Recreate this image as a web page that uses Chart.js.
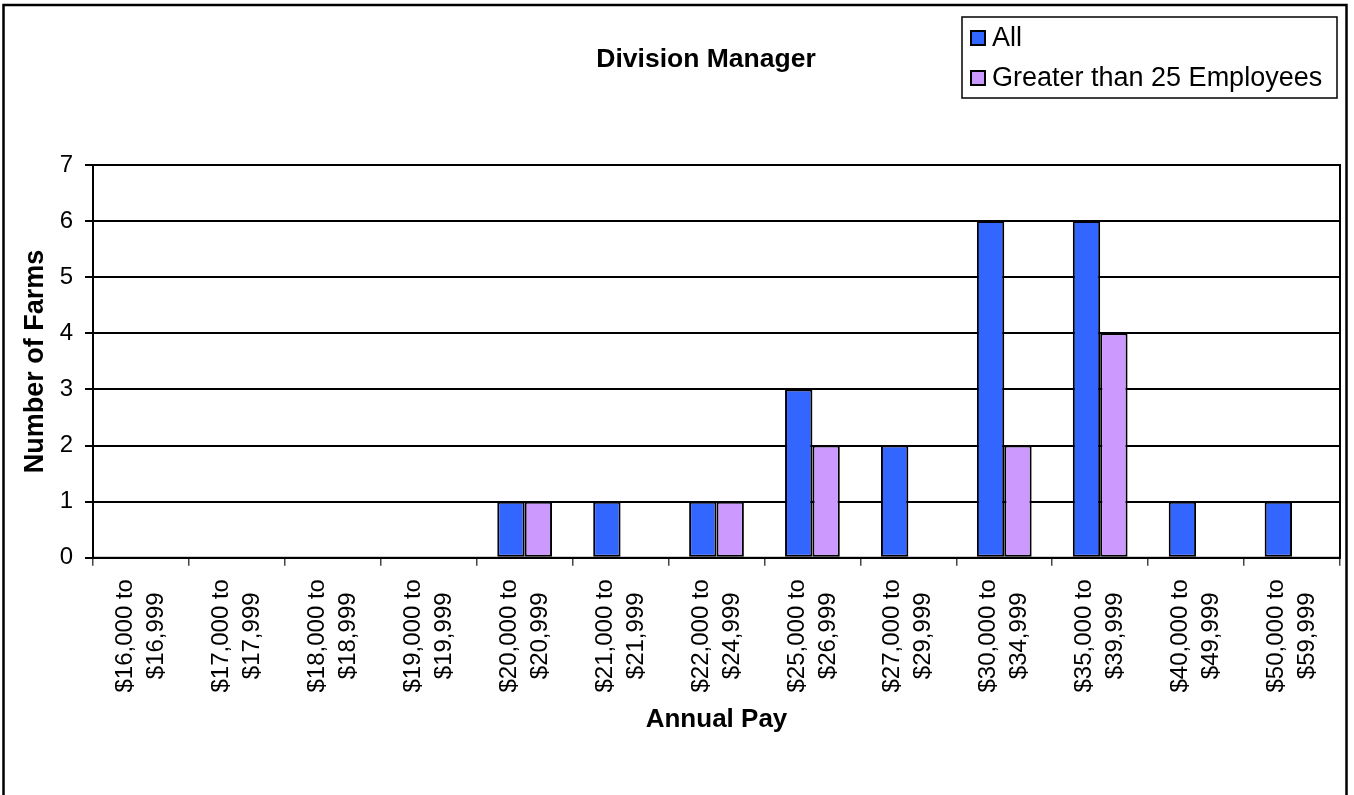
<!DOCTYPE html>
<html>
<head>
<meta charset="utf-8">
<title>Division Manager</title>
<script src="https://cdn.jsdelivr.net/npm/chart.js@4.4.0/dist/chart.umd.min.js"></script>
<style>
  html, body { margin: 0; padding: 0; background: #fff; }
  canvas { display: block; }
</style>
</head>
<body>
<canvas id="payChart" width="1354" height="795"></canvas>
<script>
// pay bands, two lines each (drawn rotated under the axis)
const payBands = [
  ["$16,000 to", "$16,999"],
  ["$17,000 to", "$17,999"],
  ["$18,000 to", "$18,999"],
  ["$19,000 to", "$19,999"],
  ["$20,000 to", "$20,999"],
  ["$21,000 to", "$21,999"],
  ["$22,000 to", "$24,999"],
  ["$25,000 to", "$26,999"],
  ["$27,000 to", "$29,999"],
  ["$30,000 to", "$34,999"],
  ["$35,000 to", "$39,999"],
  ["$40,000 to", "$49,999"],
  ["$50,000 to", "$59,999"]
];
const allFarms = [0, 0, 0, 0, 1, 1, 1, 3, 2, 6, 6, 1, 1];
const bigFarms = [0, 0, 0, 0, 1, 0, 1, 2, 0, 2, 4, 0, 0];
const yTicks = [0, 1, 2, 3, 4, 5, 6, 7];

const FONT = "'Liberation Sans', Arial, sans-serif";

// 🖼️ extra drawing: frame, plot box, rotated labels, title, legend
const excelLook = {
  id: "excelLook",
  beforeDraw(chart) {
    const ctx = chart.ctx;
    ctx.save();
    ctx.fillStyle = "#fff";
    ctx.fillRect(0, 0, chart.width, chart.height);
    ctx.restore();
  },
  afterDraw(chart) {
    const ctx = chart.ctx;
    const area = chart.chartArea;
    const xs = chart.scales.x;
    ctx.save();

    // plot box
    ctx.strokeStyle = "#000";
    ctx.lineWidth = 2;
    ctx.strokeRect(area.left, area.top, area.right - area.left, area.bottom - area.top);

    // x labels, centred lines reading bottom to top
    ctx.fillStyle = "#000";
    ctx.font = "24px " + FONT;
    ctx.textAlign = "center";
    ctx.textBaseline = "middle";
    payBands.forEach((lines, i) => {
      const x = xs.getPixelForValue(i);
      ctx.save();
      ctx.translate(x, area.bottom + 78);
      ctx.rotate(-Math.PI / 2);
      lines.forEach((t, j) => ctx.fillText(t, 0, (j - (lines.length - 1) / 2) * 31));
      ctx.restore();
    });

    // title
    ctx.font = "bold 26.5px " + FONT;
    ctx.fillText("Division Manager", 706, 60);

    // legend
    ctx.lineWidth = 1.5;
    ctx.strokeStyle = "#000";
    ctx.strokeRect(962, 17, 375, 81);
    ctx.font = "27px " + FONT;
    ctx.textAlign = "left";
    chart.data.datasets.forEach((ds, i) => {
      const y = 31 + i * 40;
      ctx.fillStyle = ds.backgroundColor;
      ctx.fillRect(971, y, 14, 14);
      ctx.lineWidth = 2;
      ctx.strokeRect(971, y, 14, 14);
      ctx.fillStyle = "#000";
      ctx.fillText(ds.label, 992, y + 8);
    });

    // outer frame
    ctx.lineWidth = 2.5;
    ctx.strokeRect(3.5, 5, 1343, 800);
    ctx.restore();
  }
};

new Chart(document.getElementById("payChart"), {
  type: "bar",
  data: {
    labels: payBands,
    datasets: [
      {
        label: "All",
        data: allFarms,
        backgroundColor: "#3366FF",
        borderColor: "#000",
        borderWidth: 2,
        borderSkipped: false,
        categoryPercentage: 0.571,
        barPercentage: 1.0
      },
      {
        label: "Greater than 25 Employees",
        data: bigFarms,
        backgroundColor: "#CC99FF",
        borderColor: "#000",
        borderWidth: 2,
        borderSkipped: false,
        categoryPercentage: 0.571,
        barPercentage: 1.0
      }
    ]
  },
  options: {
    responsive: false,
    animation: false,
    layout: { padding: { top: 165, left: 10, right: 14, bottom: 60 } },
    plugins: {
      legend: { display: false },
      title: { display: false },
      tooltip: { enabled: false }
    },
    scales: {
      x: {
        grid: {
          offset: true,
          drawOnChartArea: false,
          drawTicks: true,
          tickLength: 8,
          color: "#444",
          lineWidth: 1.5
        },
        border: { color: "#000", width: 2 },
        ticks: { display: false },
        title: {
          display: true,
          text: "Annual Pay",
          color: "#000",
          font: { family: FONT, size: 26, weight: "bold" },
          padding: { top: 138, bottom: 0 }
        }
      },
      y: {
        min: yTicks[0],
        max: yTicks[yTicks.length - 1],
        afterFit(scale) { scale.width = 83; },
        afterBuildTicks(scale) { scale.ticks = yTicks.map(v => ({ value: v })); },
        grid: { color: "#000", lineWidth: 2, tickLength: 8 },
        border: { color: "#000", width: 2 },
        ticks: {
          color: "#000",
          padding: 12,
          font: { family: FONT, size: 24 }
        },
        title: {
          display: true,
          text: "Number of Farms",
          color: "#000",
          font: { family: FONT, size: 27, weight: "bold" },
          padding: { top: 9, bottom: 0 }
        }
      }
    }
  },
  plugins: [excelLook]
});
</script>
</body>
</html>
